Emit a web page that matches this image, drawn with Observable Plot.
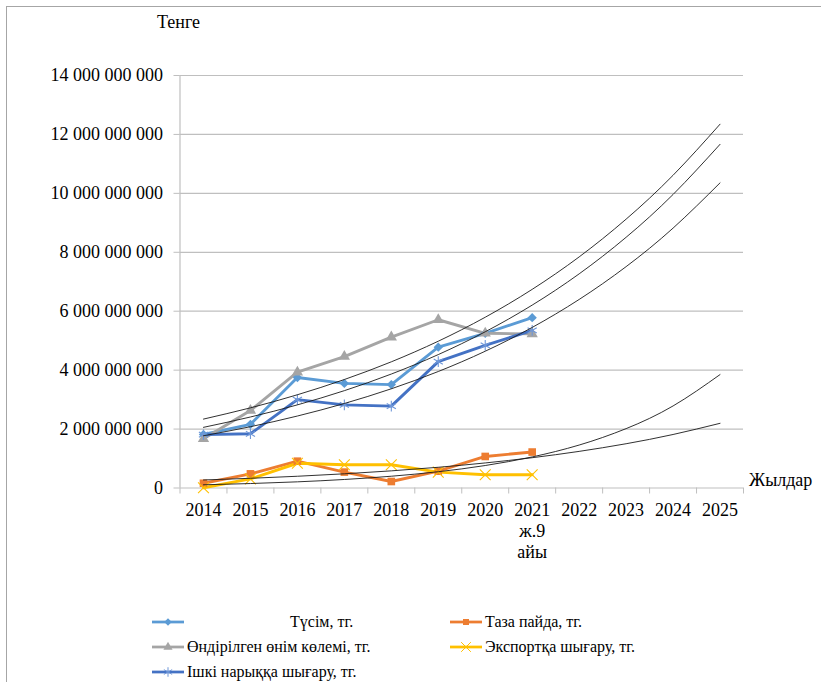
<!DOCTYPE html>
<html>
<head>
<meta charset="utf-8">
<script src="https://cdn.jsdelivr.net/npm/d3@7"></script>
<script src="https://cdn.jsdelivr.net/npm/@observablehq/plot@0.6"></script>
<style>
  html, body { margin: 0; padding: 0; background: #fff; }
  #wrap { position: relative; width: 821px; height: 682px; background: #fff; overflow: hidden;
          font-family: 'Liberation Serif', 'Times New Roman', serif; color: #000; }
  #frame { position: absolute; left: 6px; top: 6px; right: -2px; bottom: -2px;
           border-top: 1px solid #a6a6a6; border-left: 1px solid #a6a6a6; }
  #chart { position: absolute; left: 0; top: 0; }
  #chart svg text { font-family: 'Liberation Serif', 'Times New Roman', serif; }
  .lbl { position: absolute; white-space: nowrap; font-size: 18px; line-height: 1; }
  .leg { position: absolute; display: flex; align-items: center; font-size: 16px; white-space: nowrap; }
  .leg svg { display: block; margin-right: 3px; }
</style>
</head>
<body>
<div id="wrap">
  <div id="frame"></div>
  <div id="chart"></div>
  <div class="lbl" style="left:157px; top:13px;">Тенге</div>
  <div class="lbl" style="left:749px; top:471px;">Жылдар</div>
  <div id="legend"></div>
</div>
<script>
// ---- data ----
const years = ["2014","2015","2016","2017","2018","2019","2020","2021","2022","2023","2024","2025"];
const yearLabels = ["2014","2015","2016","2017","2018","2019","2020","2021\nж.9\nайы","2022","2023","2024","2025"];
const dataYears = ["2014","2015","2016","2017","2018","2019","2020","2021"];
const yTicks = [0, 2e9, 4e9, 6e9, 8e9, 10e9, 12e9, 14e9];

const seriesNames = [
  "Түсім, тг.",
  "Таза пайда, тг.",
  "Өндірілген өнім көлемі, тг.",
  "Экспортқа шығару, тг.",
  "Ішкі нарыққа шығару, тг."
];
const revenue    = [1.82e9, 2.16e9, 3.75e9, 3.55e9, 3.51e9, 4.78e9, 5.25e9, 5.78e9];
const netProfit  = [0.16e9, 0.48e9, 0.91e9, 0.54e9, 0.22e9, 0.57e9, 1.07e9, 1.22e9];
const production = [1.67e9, 2.63e9, 3.93e9, 4.46e9, 5.12e9, 5.71e9, 5.25e9, 5.23e9];
const exportVal  = [0.01e9, 0.31e9, 0.84e9, 0.79e9, 0.79e9, 0.54e9, 0.45e9, 0.45e9];
const domestic   = [1.81e9, 1.84e9, 3.00e9, 2.82e9, 2.78e9, 4.29e9, 4.84e9, 5.35e9];

const seriesColors  = ["#5b9bd5", "#ed7d31", "#a5a5a5", "#ffc000", "#4472c4"];
const seriesSymbols = ["diamond2", "square", "triangle", "times", "asterisk"];
const seriesValues  = [revenue, netProfit, production, exportVal, domestic];

// ---- tables ----
const rows = [];
seriesValues.forEach((vals, s) => vals.forEach((v, i) =>
  rows.push({series: seriesNames[s], s, year: dataYears[i], idx: years.indexOf(dataYears[i]), value: v})));

// exponential trendlines (least squares on ln y, x = 1..n), evaluated at each category
const trendRows = [];
seriesValues.forEach((vals, s) => {
  const xs = vals.map((_, i) => i + 1);
  const ls = vals.map(v => Math.log(v));
  const mx = d3.mean(xs), ml = d3.mean(ls);
  const b = d3.sum(xs.map((x, i) => (x - mx) * (ls[i] - ml))) / d3.sum(xs.map(x => (x - mx) ** 2));
  const a = ml - b * mx;
  years.forEach((y, i) => trendRows.push({s, idx: i, value: Math.exp(a + b * (i + 1))}));
});

const fmt = v => d3.format(",")(v).replace(/,/g, " ");

const lineMarks = [];
seriesValues.forEach((_, s) => {
  const data = rows.filter(r => r.s === s);
  lineMarks.push(Plot.line(data, {x: d => d.idx + 0.5, y: "value", stroke: seriesColors[s], strokeWidth: 2.9}));
});
seriesValues.forEach((_, s) => {
  const data = rows.filter(r => r.s === s);
  const sym = seriesSymbols[s];
  const stroked = sym === "times" || sym === "asterisk";
  lineMarks.push(Plot.dot(data, {
    x: d => d.idx + 0.5, y: "value", symbol: sym,
    r: stroked ? 5 : (sym === "square" ? 4.3 : 4.2),
    fill: stroked ? "none" : seriesColors[s],
    stroke: stroked ? (sym === "asterisk" ? "#6f97d8" : seriesColors[s]) : "none",
    strokeWidth: 1.1
  }));
});
const trendMarks = seriesValues.map((_, s) =>
  Plot.line(trendRows.filter(r => r.s === s), {x: d => d.idx + 0.5, y: "value", curve: "natural", stroke: "#1a1a1a", strokeWidth: 0.9}));

const chart = Plot.plot({
  width: 821,
  height: 590,
  marginLeft: 179.5,
  marginRight: 78,
  marginTop: 75,
  marginBottom: 102.5,
  x: {type: "linear", domain: [0, 12], axis: null},
  y: {domain: [0, 14e9], axis: null},
  style: {fontFamily: "'Liberation Serif', 'Times New Roman', serif", fontSize: "18px", color: "#000", background: "transparent", overflow: "visible"},
  marks: [
    Plot.ruleY(yTicks, {stroke: "#bfbfbf", strokeWidth: 1.2}),
    Plot.ruleX([0], {stroke: "#bfbfbf", strokeWidth: 1.2}),
    Plot.axisY({ticks: yTicks, tickFormat: fmt, tickSize: 6, tickPadding: 11, stroke: "#bfbfbf", fontSize: 18, label: null}),
    Plot.axisX({ticks: d3.range(13), tickFormat: () => "", tickSize: 6, stroke: "#bfbfbf", label: null}),
    Plot.text(yearLabels, {x: (d, i) => i + 0.5, frameAnchor: "bottom", dy: 12.5, lineAnchor: "top", lineHeight: 1.18, fontSize: 18, fill: "#000"}),
    ...lineMarks,
    ...trendMarks
  ]
});
document.getElementById("chart").appendChild(chart);

// ---- legend ----
const legendPos = [
  {left: 152, top: 622, textLeft: 290},
  {left: 450, top: 622},
  {left: 152, top: 647},
  {left: 450, top: 647},
  {left: 152, top: 672}
];
const symPath = (sym, r) => {
  const map = {diamond2: d3.symbolDiamond2, square: d3.symbolSquare, triangle: d3.symbolTriangle, times: d3.symbolTimes, asterisk: d3.symbolAsterisk};
  return d3.symbol(map[sym], Math.PI * r * r)();
};
const leg = document.getElementById("legend");
seriesNames.forEach((name, s) => {
  const p = legendPos[s];
  const div = document.createElement("div");
  div.className = "leg";
  div.style.left = p.left + "px";
  div.style.top = (p.top - 10) + "px";
  div.style.height = "20px";
  const sym = seriesSymbols[s];
  const stroked = sym === "times" || sym === "asterisk";
  const col = seriesColors[s];
  const r = stroked ? 4.5 : 3.4;
  div.innerHTML = `<svg width="32" height="20"><line x1="0" x2="32" y1="10" y2="10" stroke="${col}" stroke-width="2.75"/>` +
    `<path transform="translate(16,10)" d="${symPath(sym, r)}" fill="${stroked ? "none" : col}" stroke="${stroked ? (sym === "asterisk" ? "#6f97d8" : col) : "none"}" stroke-width="1"/></svg>` +
    `<span style="${p.textLeft ? `position:absolute; left:${p.textLeft - p.left}px;` : ""}">${name}</span>`;
  leg.appendChild(div);
});
</script>
</body>
</html>
